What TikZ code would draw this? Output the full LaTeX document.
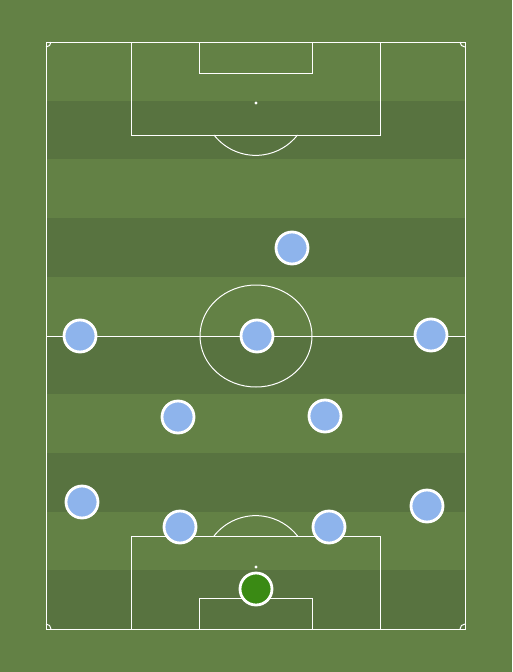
\documentclass[tikz,border=0pt]{standalone}
\usepackage{tikz}
\usetikzlibrary{positioning}
\definecolor{grassLight}{RGB}{99,129,69}
\definecolor{grassDark}{RGB}{88,115,64}
\definecolor{playerBlue}{RGB}{142,180,236}
\definecolor{keeperGreen}{RGB}{58,138,20}

\begin{document}
\begin{tikzpicture}[
  x=1pt, y=-1pt,
  line/.style={draw=white, line width=1pt},
  player/.style={circle, draw=white, line width=2.8pt, fill=playerBlue, minimum size=32pt, inner sep=0pt},
  keeper/.style={player, fill=keeperGreen}
]
  % grass and stripes
  \fill[grassLight] (0,0) rectangle (512,672);
  \useasboundingbox (0,0) rectangle (512,672);
  \foreach \i in {1,3,5,7,9}
    \fill[grassDark] (46,{42+\i*58.7}) rectangle (465,{42+(\i+1)*58.7});

  % pitch outline and halfway line
  \draw[line] (46,42) rectangle (465,629);
  \draw[line] (46,336) -- (465,336);
  \draw[line] (256,336) ellipse (56 and 51);

  % corner arcs
  \draw[line] (51,42) arc[start angle=0, end angle=90, radius=5];
  \draw[line] (460,42) arc[start angle=180, end angle=90, radius=5];
  \draw[line] (51,629) arc[start angle=0, end angle=-90, radius=5];
  \draw[line] (460,629) arc[start angle=180, end angle=270, radius=5];

  % top penalty area
  \draw[line] (131,42) rectangle (380,135);
  \draw[line] (199,42) rectangle (312,73);
  \fill[white] (256,103) circle (1.6);
  \draw[line] (214,135) arc[start angle=142, end angle=38, radius=53];

  % bottom penalty area
  \draw[line] (131,536) rectangle (380,629);
  \draw[line] (199,598) rectangle (312,629);
  \fill[white] (256,567) circle (1.6);
  \draw[line] (214,536) arc[start angle=-142, end angle=-38, radius=53];

  % players
  \node[player] (st) at (292,248) {};
  \node[player] (lw) at (80,336) {};
  \node[player] (cam) at (257,336) {};
  \node[player] (rw) at (431,335) {};
  \node[player] (lcm) at (178,417) {};
  \node[player] (rcm) at (325,416) {};
  \node[player] (lb) at (82,502) {};
  \node[player] (rb) at (427,506) {};
  \node[player] (lcb) at (180,527) {};
  \node[player] (rcb) at (329,527) {};
  \node[keeper] (gk) at (256,589) {};

\end{tikzpicture}
\end{document}
